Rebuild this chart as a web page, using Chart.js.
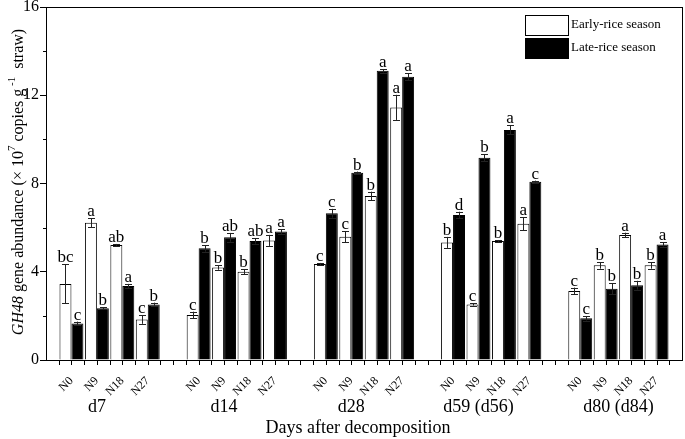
<!DOCTYPE html>
<html>
<head>
<meta charset="utf-8">
<script src="https://cdn.jsdelivr.net/npm/chart.js@4"></script>
<style>
  html, body { margin: 0; padding: 0; background: #fff; }
  #wrap { width: 685px; height: 439px; }
</style>
</head>
<body>
<div id="wrap"><canvas id="chart" width="685" height="439"></canvas></div>
<script>
// data
const treatments = ['N0', 'N9', 'N18', 'N27'];
const groupNames = ['d7', 'd14', 'd28', 'd59 (d56)', 'd80 (d84)'];
const groupLabelSlots = [2, 7, 12, 17, 22.5];

const earlyValues = [3.45, 6.22, 5.21, 1.84,  2.04, 4.19, 4.00, 5.42,  4.35, 5.59, 7.43, 11.45,  5.33, 2.52, 5.39, 6.17,  3.13, 4.29, 5.67, 4.29];
const earlyErrors = [0.88, 0.20, 0.05, 0.20,  0.15, 0.10, 0.12, 0.25,  0.05, 0.25, 0.20, 0.57,   0.25, 0.05, 0.05, 0.30,  0.15, 0.15, 0.10, 0.15];
const earlyLetters = ['bc', 'a', 'ab', 'c',  'c', 'b', 'b', 'a',  'c', 'c', 'b', 'a',  'b', 'c', 'b', 'a',  'c', 'b', 'a', 'b'];

const lateValues = [1.66, 2.34, 3.35, 2.52,  5.06, 5.56, 5.39, 5.82,  6.65, 8.49, 13.11, 12.84,  6.57, 9.17, 10.43, 8.08,  1.89, 3.23, 3.39, 5.24];
const lateErrors = [0.08, 0.05, 0.10, 0.08,  0.15, 0.20, 0.12, 0.10,  0.20, 0.05, 0.08, 0.15,    0.15, 0.15, 0.20, 0.05,  0.10, 0.25, 0.20, 0.10];
const lateLetters = ['c', 'b', 'a', 'b',  'b', 'ab', 'ab', 'a',  'c', 'b', 'a', 'a',  'd', 'b', 'a', 'c',  'c', 'b', 'b', 'a'];

const yTicks = [0, 4, 8, 12, 16];
const yMinorTicks = [2, 6, 10, 14];

const FONT = '"Liberation Serif", "Times New Roman", serif';

// 5 groups of 4 on one axis: an empty slot between groups and one at each end
function spread(arr, blank) {
    const out = [blank];
    groupNames.forEach((g, gi) => {
        if (gi > 0) out.push(blank);
        treatments.forEach((t, ti) => out.push(arr[gi * treatments.length + ti]));
    });
    out.push(blank);
    return out;
}

const labels = spread(groupNames.flatMap(() => treatments), '');
const earlySlots = spread(earlyValues, null);
const lateSlots = spread(lateValues, null);
const earlyErrSlots = spread(earlyErrors, null);
const lateErrSlots = spread(lateErrors, null);
const earlyLetterSlots = spread(earlyLetters, null);
const lateLetterSlots = spread(lateLetters, null);

const extras = {
    id: 'extras',
    afterDraw(chart) {
        const ctx = chart.ctx;
        const area = chart.chartArea;
        const x = chart.scales.x;
        const y = chart.scales.y;
        ctx.save();
        ctx.strokeStyle = '#000';
        ctx.fillStyle = '#000';
        ctx.lineWidth = 1;

        // frame
        ctx.strokeRect(Math.round(area.left) + 0.5, Math.round(area.top) + 0.5,
            Math.round(area.right - area.left), Math.round(area.bottom - area.top));

        // minor y ticks
        yMinorTicks.forEach(v => {
            const py = Math.round(y.getPixelForValue(v)) + 0.5;
            ctx.beginPath();
            ctx.moveTo(area.left - 3, py);
            ctx.lineTo(area.left, py);
            ctx.stroke();
        });

        // x ticks every half slot
        for (let k = 1; k < (labels.length - 1) * 2; k++) {
            const px = Math.round(x.getPixelForValue(k / 2)) + 0.5;
            ctx.beginPath();
            ctx.moveTo(px, area.bottom);
            ctx.lineTo(px, area.bottom + 5);
            ctx.stroke();
        }

        // error bars and letters
        const sets = [
            { meta: chart.getDatasetMeta(0), vals: earlySlots, errs: earlyErrSlots, letters: earlyLetterSlots },
            { meta: chart.getDatasetMeta(1), vals: lateSlots, errs: lateErrSlots, letters: lateLetterSlots }
        ];
        ctx.font = '17px ' + FONT;
        ctx.textAlign = 'center';
        ctx.textBaseline = 'alphabetic';
        sets.forEach(s => {
            s.vals.forEach((v, i) => {
                if (v === null) return;
                const bar = s.meta.data[i];
                const cx = Math.round(bar.x) + 0.5;
                const top = y.getPixelForValue(v + s.errs[i]);
                const bot = y.getPixelForValue(v - s.errs[i]);
                ctx.strokeStyle = '#222';
                ctx.beginPath();
                ctx.moveTo(cx, top);
                ctx.lineTo(cx, bot);
                ctx.moveTo(cx - 3.5, Math.round(top) + 0.5);
                ctx.lineTo(cx + 3.5, Math.round(top) + 0.5);
                ctx.moveTo(cx - 3.5, Math.round(bot) + 0.5);
                ctx.lineTo(cx + 3.5, Math.round(bot) + 0.5);
                ctx.stroke();
                ctx.fillText(s.letters[i], bar.x, top - 2);
            });
        });

        // legend
        ctx.strokeStyle = '#000';
        ctx.fillStyle = '#fff';
        ctx.fillRect(525.5, 15.5, 43, 20);
        ctx.strokeRect(525.5, 15.5, 43, 20);
        ctx.fillStyle = '#000';
        ctx.fillRect(525, 38, 44, 21);
        ctx.font = '13px ' + FONT;
        ctx.textAlign = 'left';
        ctx.textBaseline = 'middle';
        ctx.fillText('Early-rice season', 571, 25);
        ctx.fillText('Late-rice season', 571, 48);

        // group labels and x title
        ctx.font = '18px ' + FONT;
        ctx.textAlign = 'center';
        ctx.textBaseline = 'alphabetic';
        groupNames.forEach((g, gi) => {
            ctx.fillText(g, x.getPixelForValue(groupLabelSlots[gi]), 412);
        });
        ctx.fillText('Days after decomposition', (area.left + area.right) / 2 - 6, 433);

        // y title with italic gene name and superscripts
        const runs = [
            { t: 'GH48', f: 'italic 16px ' + FONT, dy: 0 },
            { t: ' gene abundance (× 10', f: '16px ' + FONT, dy: 0 },
            { t: '7', f: '11px ' + FONT, dy: -8 },
            { t: ' copies g', f: '16px ' + FONT, dy: 0 },
            { t: ' -1', f: '11px ' + FONT, dy: -8 },
            { t: '  straw)', f: '16px ' + FONT, dy: 0 }
        ];
        let total = 0;
        runs.forEach(r => { ctx.font = r.f; r.w = ctx.measureText(r.t).width; total += r.w; });
        ctx.translate(23, 182);
        ctx.rotate(-Math.PI / 2);
        ctx.textAlign = 'left';
        let pos = -total / 2;
        runs.forEach(r => {
            ctx.font = r.f;
            ctx.fillText(r.t, pos, r.dy);
            pos += r.w;
        });
        ctx.restore();
    }
};

new Chart(document.getElementById('chart'), {
    type: 'bar',
    data: {
        labels,
        datasets: [
            {
                label: 'Early-rice season',
                data: earlySlots,
                backgroundColor: '#fff',
                borderColor: '#000',
                borderWidth: 1,
                barPercentage: 1,
                categoryPercentage: 0.94
            },
            {
                label: 'Late-rice season',
                data: lateSlots,
                backgroundColor: '#000',
                borderColor: '#000',
                borderWidth: 1,
                barPercentage: 1,
                categoryPercentage: 0.94
            }
        ]
    },
    options: {
        responsive: false,
        animation: false,
        layout: { padding: { top: 7, right: 3, left: 0, bottom: 0 } },
        plugins: {
            legend: { display: false },
            tooltip: { enabled: false }
        },
        scales: {
            x: {
                type: 'category',
                offset: false,
                grid: { display: false },
                border: { display: true, color: '#000', width: 1 },
                ticks: {
                    autoSkip: false,
                    minRotation: 45,
                    maxRotation: 45,
                    color: '#000',
                    padding: 6,
                    font: { family: FONT, size: 12 }
                },
                afterFit: s => { s.height = 79; s.paddingLeft = 0; s.paddingRight = 0; }
            },
            y: {
                min: 0,
                max: 16,
                afterBuildTicks: s => { s.ticks = yTicks.map(v => ({ value: v })); },
                grid: { display: true, drawOnChartArea: false, drawTicks: true, tickLength: 6, color: '#000' },
                border: { display: true, color: '#000', width: 1 },
                ticks: {
                    color: '#000',
                    padding: 1,
                    font: { family: FONT, size: 16 }
                },
                afterFit: s => { s.width = 46; s.paddingTop = 0; s.paddingBottom = 0; }
            }
        }
    },
    plugins: [extras]
});
</script>
</body>
</html>
